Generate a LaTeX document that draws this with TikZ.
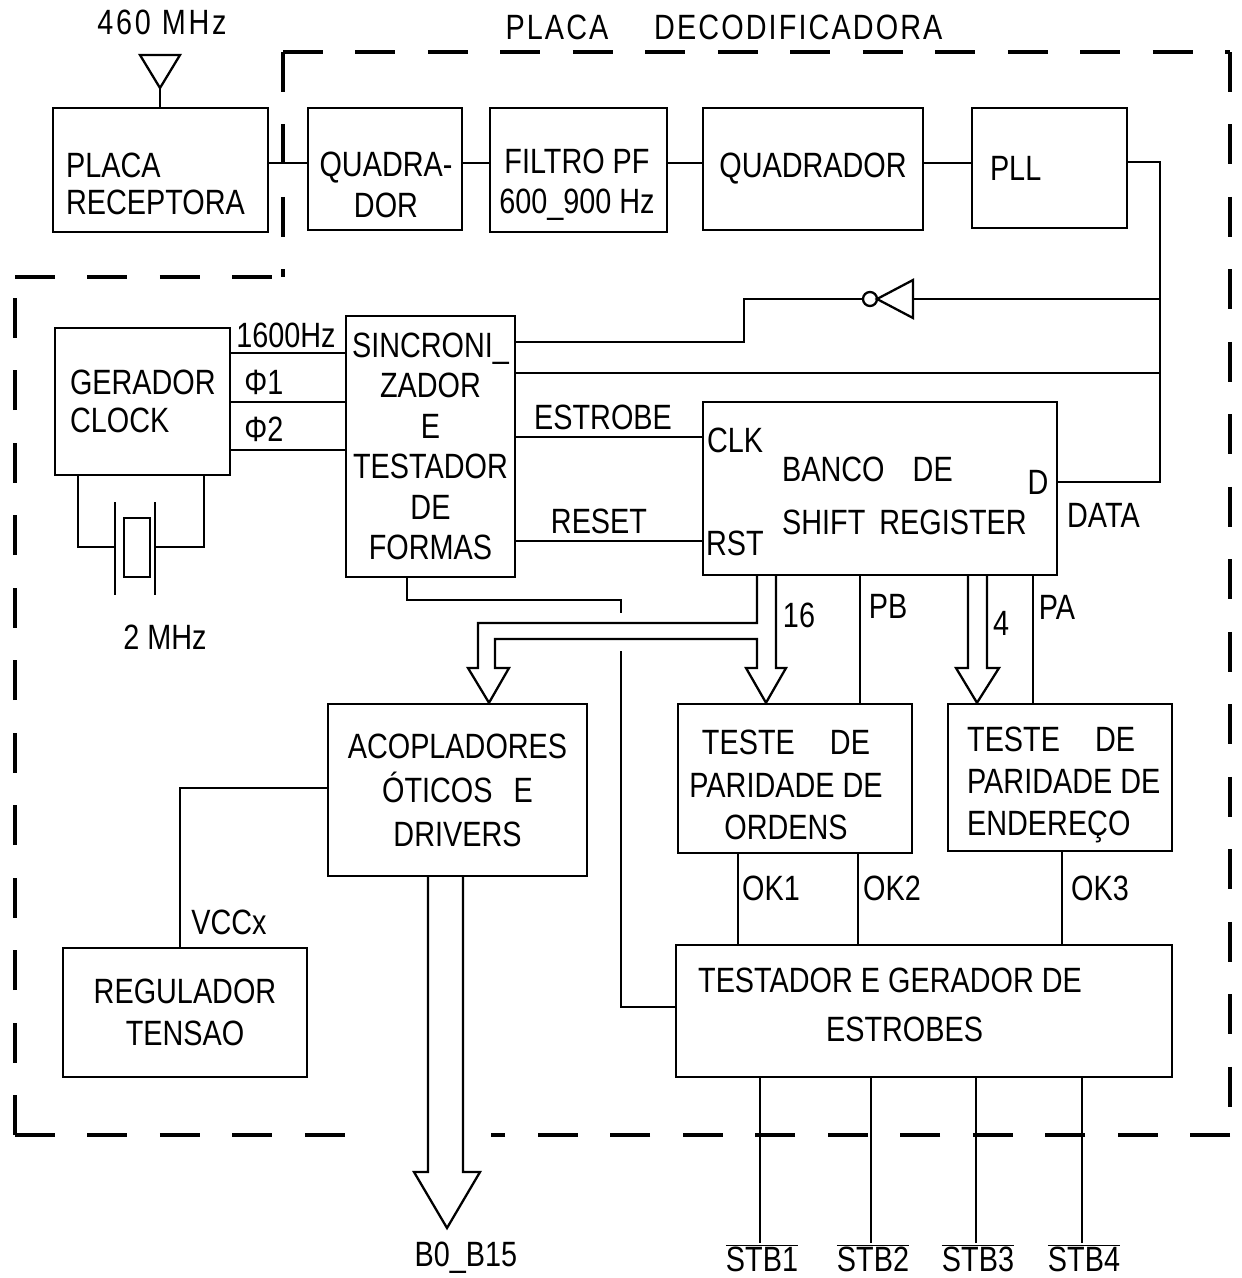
\documentclass[tikz,border=0pt]{standalone}
\usepackage{fontspec}
\setmainfont{Liberation Sans}[FakeStretch=0.82]
\usepackage{tikz}

\tikzset{
  blk/.style={draw, rectangle, line width=1.4pt},
  txt/.style={align=left},
  bus/.style={line width=1.3pt, line join=miter},
  borda/.style={line width=1.9pt, dash pattern=on 0.8cm off 0.65cm}
}

\begin{document}
\begin{tikzpicture}[x=0.02cm, y=-0.02cm, line width=1.3pt,
    every node/.style={font=\fontsize{20pt}{23pt}\selectfont, inner sep=0pt}]
    \useasboundingbox (0,0) rectangle (1241,1278);

    % blocos da fila de cima
    \node[blk, minimum width=4.3cm, minimum height=2.48cm] (recep) at (160.5,170) {};
    \node[txt, anchor=west] (recep-t) at (65,184) {PLACA\\[-1.5pt]RECEPTORA};
    \node[blk, minimum width=3.08cm, minimum height=2.44cm] (quad1) at (385,169) {};
    \node[txt, align=center] (quad1-t) at (386,185) {QUADRA-\\DOR};
    \node[blk, minimum width=3.54cm, minimum height=2.48cm] (filtro) at (578.5,170) {};
    \node[txt, align=center] (filtro-t) at (577,185) {FILTRO PF\\600\_900 Hz};
    \node[blk, minimum width=4.4cm, minimum height=2.44cm] (quad2) at (813,169) {QUADRADOR};
    \node[blk, minimum height=2.4cm, text width=2.38cm, inner xsep=0.36cm, align=left] (pll) at (1049.5,168) {PLL};

    % blocos do meio
    \node[blk, minimum height=2.94cm, text width=2.9cm, inner xsep=0.3cm, align=left] (gerador) at (142.5,401.5) {GERADOR\\[-1.5pt]CLOCK};
    \node[blk, minimum width=3.38cm, minimum height=5.22cm, align=center] (sinc) at (430.5,446.5)
        {SINCRONI\_\\ZADOR\\E\\TESTADOR\\DE\\FORMAS};
    \node[blk, minimum width=7.08cm, minimum height=3.46cm] (banco) at (880,488.5) {};
    \node[txt, anchor=west] (banco-t) at (781,496) {BANCO\hspace{16pt}DE\\[7pt]SHIFT\hspace{8pt}REGISTER};
    \node[anchor=west] (clk) at (706,440) {CLK};
    \node[anchor=west] (rst) at (705,543) {RST};
    \node (dpin) at (1038,482) {D};
    \node[anchor=west] (data) at (1066,515) {DATA};

    % blocos de baixo
    \node[blk, minimum width=5.18cm, minimum height=3.44cm, align=center] (acop) at (457.5,790)
        {ACOPLADORES\\[2pt]ÓTICOS\hspace{0.6em}E\\[2pt]DRIVERS};
    \node[blk, minimum width=4.68cm, minimum height=2.98cm] (ordens) at (795,778.5) {};
    \node[align=center] (ordens-t) at (786,785) {TESTE\hspace{1em}DE\\[1pt]PARIDADE DE\\[1pt]ORDENS};
    \node[blk, minimum width=4.48cm, minimum height=2.94cm] (ender) at (1060,777.5) {};
    \node[txt, anchor=west] (ender-t) at (966,785) {TESTE\hspace{1em}DE\\[1pt]PARIDADE DE\\[1pt]ENDEREÇO};
    \node[blk, minimum width=9.92cm, minimum height=2.64cm] (testador) at (924,1011) {};
    \node[txt, anchor=west] (testador-t) at (697,1005) {TESTADOR E GERADOR DE\\[5pt]\hspace*{2.56cm}ESTROBES};
    \node[blk, minimum width=4.88cm, minimum height=2.58cm, align=center] (regul) at (185,1012.5) {REGULADOR\\[1pt]TENSAO};

    % textos soltos
    \node (f460) at (162,22) {\addfontfeature{LetterSpace=8}460 MHz};
    \node (titulo) at (724,27) {\addfontfeature{LetterSpace=6}PLACA\hspace{1.3em}DECODIFICADORA};
    \node (f1600) at (286,335) {1600Hz};
    \node (fi1) at (264,382) {Φ1};
    \node (fi2) at (264,429) {Φ2};
    \node (f2m) at (165,637) {2 MHz};
    \node (estrobe) at (603,417) {ESTROBE};
    \node (reset) at (599,521) {RESET};
    \node (l16) at (799,615) {16};
    \node (lpb) at (888,606) {PB};
    \node (l4) at (1001,623) {4};
    \node (lpa) at (1057,607) {PA};
    \node (ok1) at (771,888) {OK1};
    \node (ok2) at (892,888) {OK2};
    \node (ok3) at (1100,888) {OK3};
    \node (vccx) at (229,922) {VCCx};
    \node (b015) at (466,1258) {B0\_B15};

    % antena
    \coordinate (ant) at (160,88);
    \draw (140,55) -- (180,55) -- (ant) -- cycle;
    \draw (ant) -- (ant |- recep.north);

    % cadeia de cima
    \draw (recep.east |- 0,163) -- (quad1.west |- 0,163);
    \draw (quad1.east |- 0,163) -- (filtro.west |- 0,163);
    \draw (filtro.east |- 0,163) -- (quad2.west |- 0,163);
    \draw (quad2.east |- 0,163) -- (pll.west |- 0,163);

    % saida do PLL
    \coordinate (dj1) at (1160,299);
    \coordinate (dj2) at (1160,373);
    \coordinate (dcanto) at (1160,482);
    \draw (pll.east |- 0,162) -| (dcanto) -- (banco.east |- dcanto);
    \draw (sinc.east |- dj2) -- (dj2);

    % inversor
    \coordinate (inv-in) at (913,299);
    \coordinate (inv-out) at (863,299);
    \draw (inv-in |- 0,280) -- (inv-in |- 0,318) -- (877,299) -- cycle;
    \draw (870,299) circle[radius=0.14cm];
    \draw (dj1) -- (inv-in);
    \draw (inv-out) -| (744,342) -- (sinc.east |- 0,342);

    % relogio
    \draw (gerador.east |- 0,353) -- (sinc.west |- 0,353);
    \draw (gerador.east |- 0,402) -- (sinc.west |- 0,402);
    \draw (gerador.east |- 0,450) -- (sinc.west |- 0,450);
    \draw (sinc.east |- 0,437) -- (banco.west |- 0,437);
    \draw (sinc.east |- 0,541) -- (banco.west |- 0,541);

    % cristal
    \draw (gerador.south -| 78,0) |- (115,547);
    \draw (gerador.south -| 204,0) |- (155,547);
    \draw (115,502) -- (115,595);
    \draw (155,502) -- (155,595);
    \draw (124,518) rectangle (150,577);

    % sincronizador -> testador
    \draw (sinc.south -| 407,0) |- (621,600) -- (621,613);
    \draw (621,651) |- (testador.west |- 0,1007);

    % barramentos
    \draw[bus] (banco.south -| 776,0) -- (776,668) -- (786,668) -- (ordens.north -| 766,0) -- (746,668)
        -- (757,668) -- (757,639) -- (495,639) -- (495,668) -- (509,668) -- (acop.north -| 489,0)
        -- (468,668) -- (478,668) -- (478,623) -- (757,623) -- (banco.south -| 757,0);
    \draw[bus] (banco.south -| 987,0) -- (987,668) -- (999,668) -- (ender.north -| 977,0)
        -- (956,668) -- (968,668) -- (banco.south -| 968,0);
    \draw[bus] (acop.south -| 463,0) -- (463,1172) -- (480,1172) -- (447,1228) -- (414,1172)
        -- (428,1172) -- (acop.south -| 428,0);

    % paridade
    \draw (banco.south -| 860,0) -- (ordens.north -| 860,0);
    \draw (banco.south -| 1033,0) -- (ender.north -| 1033,0);
    \draw (ordens.south -| 738,0) -- (testador.north -| 738,0);
    \draw (ordens.south -| 858,0) -- (testador.north -| 858,0);
    \draw (ender.south -| 1062,0) -- (testador.north -| 1062,0);

    % alimentacao
    \draw (acop.west |- 0,788) -| (regul.north -| 180,0);

    % estrobes
    \foreach \x/\n in {760/1,871/2,976/3,1082/4} {
        \node (stb\n) at (\x+2,1258) {$\overline{\mbox{STB\n}}$};
        \draw (testador.south -| \x,0) -- (stb\n.north -| \x,0);
    }

    % placa decodificadora
    \draw[borda] (15,277) -- (283,277);
    \draw[borda] (283,52) -- (283,277);
    \draw[borda] (283,52) -- (1230,52);
    \draw[borda] (1230,52) -- (1230,1135);
    \draw[borda] (15,1135) -- (15,277);
    \draw[borda] (15,1135) -- (364,1135);
    \draw[borda] (1230,1135) -- (491,1135);
\end{tikzpicture}
\end{document}
